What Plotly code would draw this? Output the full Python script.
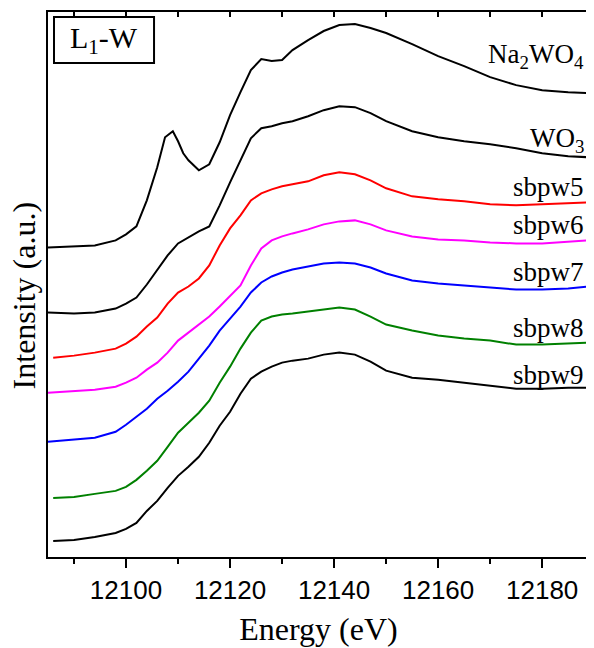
import plotly.graph_objects as go

# Energy grids (eV)
energy_a = [12085, 12090, 12094, 12098, 12100, 12102, 12104, 12106, 12108, 12110, 12112, 12114,
            12116, 12118, 12120, 12122, 12124, 12126, 12128, 12130, 12132, 12135, 12138, 12141,
            12144, 12147, 12150, 12155, 12160, 12165, 12170, 12175, 12180, 12185, 12189]
energy_b = [12086] + energy_a[1:]
energy_na = [12085, 12090, 12094, 12098, 12100, 12102, 12104, 12106, 12107.5, 12109, 12110, 12111,
             12112, 12114, 12116, 12118, 12120, 12122, 12124, 12126, 12128, 12130, 12132, 12135,
             12138, 12141, 12144, 12147, 12150, 12155, 12160, 12165, 12170, 12175, 12180, 12185, 12189]

# Intensities (a.u., stacked with offsets)
na2wo4 = [3.09, 3.10, 3.11, 3.16, 3.22, 3.30, 3.56, 3.89, 4.19, 4.25, 4.15, 4.03,
          3.96, 3.86, 3.92, 4.14, 4.41, 4.64, 4.86, 4.97, 4.95, 4.96, 5.06, 5.16,
          5.25, 5.31, 5.32, 5.28, 5.23, 5.12, 5.00, 4.90, 4.79, 4.71, 4.66, 4.64, 4.63]
wo3 = [2.44, 2.43, 2.44, 2.48, 2.53, 2.59, 2.72, 2.86, 3.01, 3.13, 3.19, 3.25,
       3.30, 3.51, 3.74, 3.96, 4.18, 4.28, 4.30, 4.33, 4.35, 4.40, 4.46, 4.50,
       4.49, 4.43, 4.35, 4.25, 4.19, 4.15, 4.12, 4.08, 4.03, 4.00, 3.99]
sbpw5 = [1.99, 2.01, 2.04, 2.08, 2.13, 2.20, 2.30, 2.39, 2.53, 2.64, 2.70, 2.78,
         2.91, 3.11, 3.28, 3.41, 3.56, 3.63, 3.67, 3.70, 3.72, 3.75, 3.81, 3.84,
         3.82, 3.76, 3.68, 3.60, 3.57, 3.55, 3.52, 3.51, 3.52, 3.53, 3.54]
sbpw6 = [1.64, 1.66, 1.67, 1.70, 1.74, 1.79, 1.87, 1.94, 2.04, 2.16, 2.24, 2.32,
         2.40, 2.50, 2.60, 2.71, 2.91, 3.08, 3.16, 3.20, 3.23, 3.27, 3.32, 3.35,
         3.36, 3.32, 3.26, 3.20, 3.17, 3.16, 3.14, 3.13, 3.13, 3.15, 3.16]
sbpw7 = [1.15, 1.17, 1.19, 1.25, 1.32, 1.40, 1.48, 1.58, 1.66, 1.75, 1.85, 1.98,
         2.11, 2.26, 2.38, 2.50, 2.64, 2.74, 2.80, 2.84, 2.87, 2.90, 2.93, 2.94,
         2.93, 2.89, 2.83, 2.76, 2.73, 2.71, 2.69, 2.67, 2.67, 2.68, 2.70]
sbpw8 = [0.59, 0.60, 0.63, 0.66, 0.70, 0.77, 0.86, 0.96, 1.10, 1.24, 1.34, 1.44,
         1.56, 1.74, 1.90, 2.08, 2.24, 2.36, 2.40, 2.42, 2.43, 2.45, 2.47, 2.49,
         2.47, 2.40, 2.32, 2.26, 2.21, 2.18, 2.16, 2.12, 2.12, 2.13, 2.14]
sbpw9 = [0.16, 0.17, 0.20, 0.24, 0.28, 0.34, 0.46, 0.56, 0.69, 0.81, 0.90, 1.00,
         1.14, 1.31, 1.45, 1.63, 1.78, 1.85, 1.90, 1.94, 1.96, 1.98, 2.02, 2.04,
         2.02, 1.95, 1.86, 1.79, 1.77, 1.74, 1.71, 1.68, 1.68, 1.69, 1.69]

series_names = ["Na<sub>2</sub>WO<sub>4</sub>", "WO<sub>3</sub>", "sbpw5", "sbpw6", "sbpw7", "sbpw8", "sbpw9"]
series_x = [energy_na, energy_a, energy_b, energy_a, energy_a, energy_b, energy_b]
series_y = [na2wo4, wo3, sbpw5, sbpw6, sbpw7, sbpw8, sbpw9]
series_colors = ["#000000", "#000000", "#ff0000", "#ff00ff", "#0000ff", "#008000", "#000000"]
label_y = [5.00, 4.16, 3.69, 3.31, 2.84, 2.29, 1.82]

x_range = [12085, 12189]
y_range = [0, 5.44]

fig = go.Figure()
for xs, ys, col in zip(series_x, series_y, series_colors):
    fig.add_trace(go.Scatter(x=xs, y=ys, mode="lines", line=dict(color=col, width=2),
                             showlegend=False, hoverinfo="skip"))
# invisible trace for top axis
fig.add_trace(go.Scatter(x=x_range, y=y_range, mode="markers", marker=dict(opacity=0),
                         xaxis="x2", showlegend=False, hoverinfo="skip"))

for name, ly in zip(series_names, label_y):
    fig.add_annotation(x=0.994, xref="paper", y=ly, yref="y", text=name, showarrow=False,
                       xanchor="right", yanchor="middle",
                       font=dict(family="Liberation Serif", size=27, color="black"))

# L1-W box
fig.add_shape(type="rect", xref="paper", yref="paper", x0=0.0111, x1=0.196, y0=0.9064, y1=0.9908,
              line=dict(color="black", width=2), fillcolor="white")
fig.add_annotation(x=0.1035, xref="paper", y=0.9486, yref="paper", text="L<sub>1</sub>-W",
                   showarrow=False, xanchor="center", yanchor="middle",
                   font=dict(family="Liberation Serif", size=30, color="black"))

fig.add_annotation(x=0, xref="paper", xshift=-24, y=0.48, yref="paper", text="Intensity (a.u.)",
                   showarrow=False, textangle=-90, xanchor="center", yanchor="middle",
                   font=dict(family="Liberation Serif", size=32, color="black"))

fig.update_layout(
    width=586, height=640,
    margin=dict(l=40, r=5, t=4, b=91),
    plot_bgcolor="white", paper_bgcolor="white",
    xaxis=dict(range=x_range, showline=True, linecolor="black", linewidth=2, mirror=True,
               ticks="outside", ticklen=9, tickwidth=2, tickcolor="black",
               tick0=12100, dtick=20, tickformat="d", showgrid=False, zeroline=False,
               automargin=False,
               tickfont=dict(family="Liberation Sans", size=26, color="black"),
               minor=dict(ticks="outside", ticklen=5, tickwidth=2, tickcolor="black", dtick=10, tick0=12090),
               title=dict(text="Energy (eV)", standoff=13,
                          font=dict(family="Liberation Serif", size=32, color="black"))),
    xaxis2=dict(range=x_range, overlaying="x", side="top", showline=False, automargin=False,
                ticks="inside", ticklen=5, tickwidth=1.5, tickcolor="black",
                tick0=12100, dtick=10, showticklabels=False, showgrid=False, zeroline=False),
    yaxis=dict(range=y_range, showline=True, linecolor="black", linewidth=2, mirror=True,
               automargin=False,
               ticks="", showticklabels=False, showgrid=False, zeroline=False),
)

fig.write_html("out.html")
